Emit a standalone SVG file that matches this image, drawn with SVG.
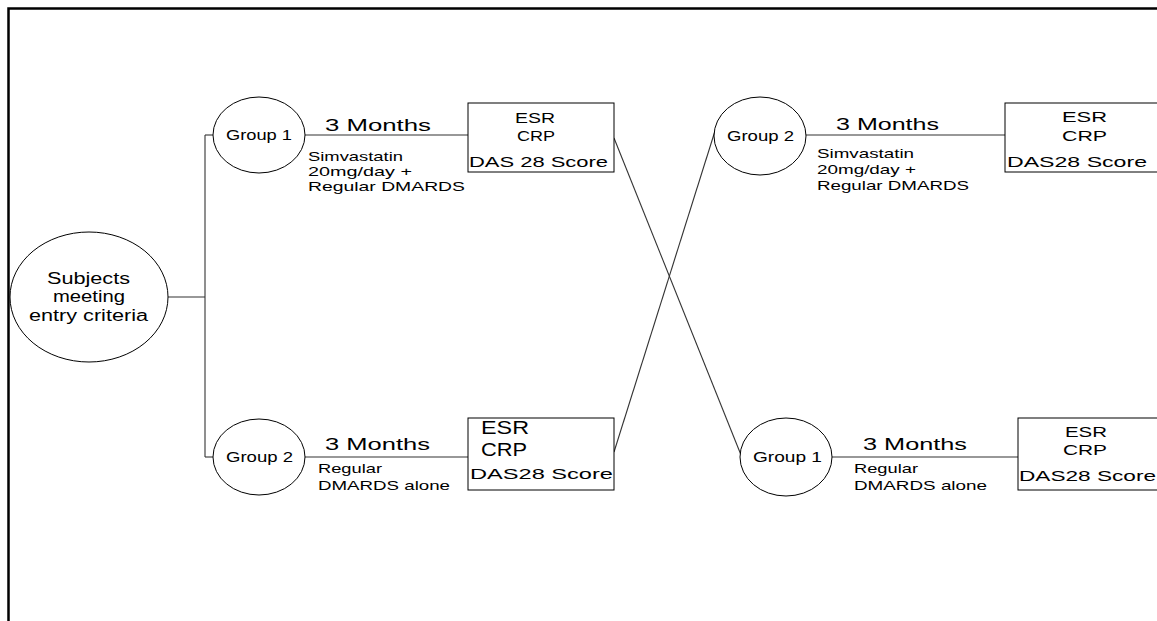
<svg xmlns="http://www.w3.org/2000/svg" width="1157" height="621" viewBox="0 0 1157 621">
<style>
  .bg{fill:#fff}
  .frame{fill:none;stroke:#000;stroke-width:2.5}
  .node{fill:#fff;stroke:#000;stroke-width:1}
  .conn{fill:none;stroke:#333;stroke-width:1.1}
  text{font-family:"Liberation Sans",Arial,sans-serif;fill:#000}
  .g{font-size:14px}
  .m{font-size:17px}
  .s{font-size:13px}
  .b{font-size:15px}
  .bb{font-size:19px}
  .subj{font-size:16px}
</style>
<rect class="bg" x="0" y="0" width="1157" height="621"/>
<path class="frame" d="M8.5,621 V8.5 H1157"/>

<g id="connectors">
  <line class="conn" x1="168" y1="297" x2="205" y2="297"/>
  <line class="conn" x1="205" y1="135" x2="205" y2="457"/>
  <line class="conn" x1="205" y1="135" x2="213" y2="135"/>
  <line class="conn" x1="205" y1="457" x2="213" y2="457"/>
  <line class="conn" x1="305" y1="135" x2="468" y2="135"/>
  <line class="conn" x1="305" y1="457" x2="468" y2="457"/>
  <line class="conn" x1="806" y1="135" x2="1005" y2="135"/>
  <line class="conn" x1="832" y1="457" x2="1018" y2="457"/>
  <line class="conn" x1="614" y1="138" x2="741" y2="455"/>
  <line class="conn" x1="614" y1="452" x2="715" y2="131"/>
</g>

<g id="subjects">
  <ellipse class="node" cx="89" cy="297" rx="79" ry="65"/>
  <text class="subj" x="47" y="284" textLength="83" lengthAdjust="spacingAndGlyphs">Subjects</text>
  <text class="subj" x="53" y="302" textLength="72" lengthAdjust="spacingAndGlyphs">meeting</text>
  <text class="subj" x="29" y="321" textLength="119" lengthAdjust="spacingAndGlyphs">entry criteria</text>
</g>

<g id="group1-a">
  <ellipse class="node" cx="259" cy="135" rx="46" ry="38"/>
  <text class="g" x="226" y="140" textLength="66" lengthAdjust="spacingAndGlyphs">Group 1</text>
</g>
<g id="label1-a">
  <text class="m" x="325" y="131" textLength="106" lengthAdjust="spacingAndGlyphs">3 Months</text>
  <text class="s" x="308" y="161" textLength="95" lengthAdjust="spacingAndGlyphs">Simvastatin</text>
  <text class="s" x="308" y="176" textLength="104" lengthAdjust="spacingAndGlyphs">20mg/day  +</text>
  <text class="s" x="308" y="191" textLength="157" lengthAdjust="spacingAndGlyphs">Regular  DMARDS</text>
</g>
<g id="box1-a">
  <rect class="node" x="468" y="103" width="146" height="69"/>
  <text class="b" x="515" y="123" textLength="40" lengthAdjust="spacingAndGlyphs">ESR</text>
  <text class="b" x="517" y="141" textLength="38" lengthAdjust="spacingAndGlyphs">CRP</text>
  <text class="b" x="469" y="167" textLength="139" lengthAdjust="spacingAndGlyphs">DAS 28 Score</text>
</g>

<g id="group2-a">
  <ellipse class="node" cx="259" cy="457" rx="46" ry="38"/>
  <text class="g" x="226" y="462" textLength="67" lengthAdjust="spacingAndGlyphs">Group 2</text>
</g>
<g id="label2-a">
  <text class="m" x="325" y="450" textLength="105" lengthAdjust="spacingAndGlyphs">3 Months</text>
  <text class="s" x="318" y="473" textLength="64" lengthAdjust="spacingAndGlyphs">Regular</text>
  <text class="s" x="318" y="490" textLength="132" lengthAdjust="spacingAndGlyphs">DMARDS alone</text>
</g>
<g id="box2-a">
  <rect class="node" x="468" y="418" width="146" height="72"/>
  <text class="bb" x="481" y="434" textLength="48" lengthAdjust="spacingAndGlyphs">ESR</text>
  <text class="bb" x="481" y="456" textLength="46" lengthAdjust="spacingAndGlyphs">CRP</text>
  <text class="b" x="470" y="479" textLength="143" lengthAdjust="spacingAndGlyphs">DAS28 Score</text>
</g>

<g id="group2-b">
  <ellipse class="node" cx="760" cy="136" rx="46" ry="39"/>
  <text class="g" x="727" y="141" textLength="67" lengthAdjust="spacingAndGlyphs">Group 2</text>
</g>
<g id="label2-b">
  <text class="m" x="836" y="130" textLength="103" lengthAdjust="spacingAndGlyphs">3 Months</text>
  <text class="s" x="817" y="158" textLength="97" lengthAdjust="spacingAndGlyphs">Simvastatin</text>
  <text class="s" x="817" y="174" textLength="99" lengthAdjust="spacingAndGlyphs">20mg/day +</text>
  <text class="s" x="817" y="190" textLength="152" lengthAdjust="spacingAndGlyphs">Regular DMARDS</text>
</g>
<g id="box1-b">
  <rect class="node" x="1005" y="103" width="160" height="69"/>
  <text class="b" x="1062" y="122" textLength="45" lengthAdjust="spacingAndGlyphs">ESR</text>
  <text class="b" x="1062" y="141" textLength="45" lengthAdjust="spacingAndGlyphs">CRP</text>
  <text class="b" x="1007" y="167" textLength="140" lengthAdjust="spacingAndGlyphs">DAS28 Score</text>
</g>

<g id="group1-b">
  <ellipse class="node" cx="786" cy="457" rx="46" ry="39"/>
  <text class="g" x="753" y="462" textLength="69" lengthAdjust="spacingAndGlyphs">Group 1</text>
</g>
<g id="label1-b">
  <text class="m" x="863" y="450" textLength="104" lengthAdjust="spacingAndGlyphs">3 Months</text>
  <text class="s" x="854" y="473" textLength="64" lengthAdjust="spacingAndGlyphs">Regular</text>
  <text class="s" x="854" y="490" textLength="133" lengthAdjust="spacingAndGlyphs">DMARDS alone</text>
</g>
<g id="box2-b">
  <rect class="node" x="1018" y="418" width="150" height="72"/>
  <text class="b" x="1065" y="437" textLength="42" lengthAdjust="spacingAndGlyphs">ESR</text>
  <text class="b" x="1063" y="455" textLength="44" lengthAdjust="spacingAndGlyphs">CRP</text>
  <text class="b" x="1019" y="481" textLength="137" lengthAdjust="spacingAndGlyphs">DAS28 Score</text>
</g>
</svg>
